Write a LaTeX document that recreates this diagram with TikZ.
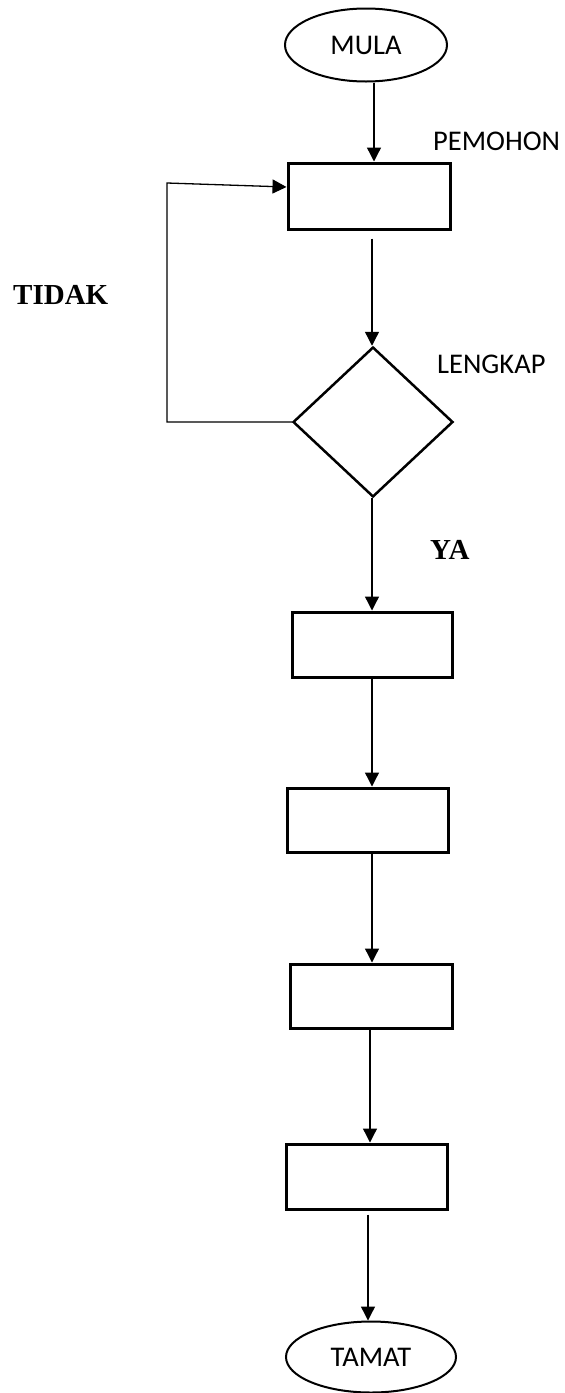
\documentclass[tikz,border=0pt]{standalone}
\usepackage{fontspec}
\setmainfont{Carlito}
\newfontfamily\tnr{Liberation Serif}
\usetikzlibrary{shapes.geometric,arrows.meta}

\begin{document}
\begin{tikzpicture}[x=1pt,y=-1pt,
		terminal/.style={draw, ellipse, line width=2pt, inner sep=0pt, font=\fontsize{28.5}{34}\selectfont},
		prosesbox/.style={draw, rectangle, line width=3pt, inner sep=0pt, minimum width=160pt, minimum height=64pt},
		keputusan/.style={draw, diamond, line width=2.5pt, inner sep=0pt, minimum width=160pt, minimum height=150pt},
		label/.style={inner sep=0pt, font=\fontsize{28.5}{34}\selectfont},
		jawapan/.style={inner sep=0pt, font=\tnr\bfseries\fontsize{29}{34}\selectfont},
		aliran/.style={line width=1.3pt, -{Triangle[length=14pt,width=14pt]}}]
			\useasboundingbox (0,0) rectangle (565,1393);
			
			\node[terminal, minimum width=162pt, minimum height=73pt] (mula) at (366,45) {MULA};
			\node[prosesbox, minimum width=162pt, minimum height=66pt] (mohon) at (369,196) {};
			\node[keputusan] (lengkap) at (373,422) {};
			\node[prosesbox, minimum height=65pt] (b2) at (372,644.5) {};
			\node[prosesbox, minimum width=161pt] (b3) at (367.5,820) {};
			\node[prosesbox, minimum width=162pt] (b4) at (371,996) {};
			\node[prosesbox, minimum width=161pt, minimum height=65pt] (b5) at (366.5,1176.5) {};
			\node[terminal, minimum width=170pt, minimum height=71pt] (tamat) at (371,1357) {TAMAT};
			
			\node[label, anchor=base west] (lblmohon) at (433,150) {PEMOHON};
			\node[label, anchor=base west] (lbllengkap) at (437,373) {LENGKAP};
			\node[jawapan, anchor=base west] (tidak) at (13,304) {TIDAK};
			\node[jawapan, anchor=base west] (ya) at (430,559) {YA};
			
			\draw[aliran] ([xshift=8pt]mula.south) -- ([xshift=8pt]mula.south |- mohon.north);
			\draw[aliran, shorten <=8pt] ([xshift=3pt]mohon.south) -- ([xshift=3pt]mohon.south |- lengkap.north);
			\draw[aliran] ([xshift=-1pt]lengkap.south) -- ([xshift=-1pt]lengkap.south |- b2.north);
			\draw[aliran] (b2.south) -- (b2.south |- b3.north);
			\draw[aliran] ([xshift=4.5pt]b3.south) -- ([xshift=4.5pt]b3.south |- b4.north);
			\draw[aliran] ([xshift=-1pt]b4.south) -- ([xshift=-1pt]b4.south |- b5.north);
			\draw[aliran, shorten <=4pt] ([xshift=1.5pt]b5.south) -- ([xshift=1.5pt]b5.south |- tamat.north);
			
			% ulang semula jika tidak lengkap
			\coordinate (fbbawah) at (167,422);
			\coordinate (fbatas) at (167,183);
			\draw[aliran] (lengkap.west) -- (fbbawah) -- (fbatas) -- ([yshift=9pt]mohon.west);
			
		\end{tikzpicture}
\end{document}
